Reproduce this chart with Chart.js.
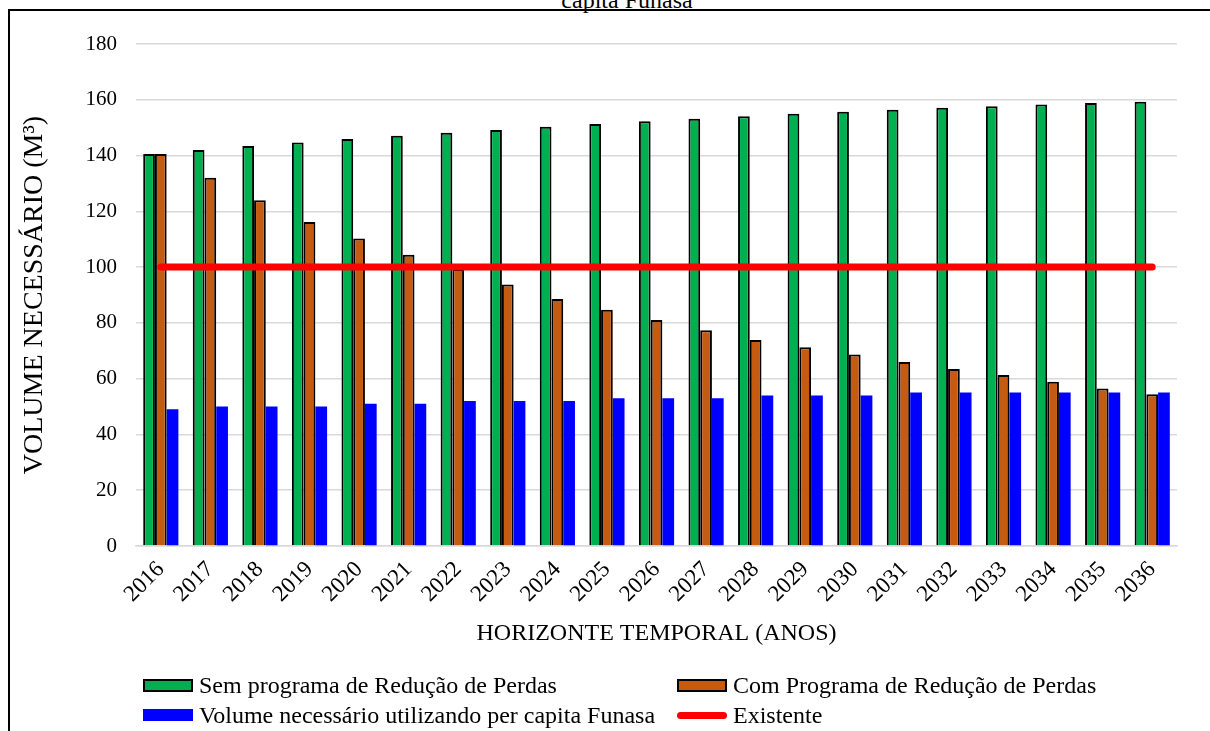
<!DOCTYPE html>
<html>
<head>
<meta charset="utf-8">
<script src="https://cdn.jsdelivr.net/npm/chart.js@4.4.0/dist/chart.umd.min.js"></script>
<style>
    html, body { margin: 0; padding: 0; background: #fff; overflow: hidden; }
    body { width: 1210px; height: 731px; position: relative; font-family: "Liberation Serif", "Times New Roman", serif; }
    #frame { position: absolute; left: 8px; top: 9px; width: 1250px; height: 800px; border-left: 2px solid #000; border-top: 2px solid #000; }
    #wrap { position: absolute; left: 0; top: 0; width: 1210px; height: 731px; }
    #topTitle { position: absolute; left: 427px; width: 400px; top: -12px; text-align: center; font-size: 24px; line-height: 24px; color: #000; }
    #legend { position: absolute; left: 143px; top: 670px; width: 1060px; font-size: 24px; color: #000; }
    .item { position: absolute; display: flex; align-items: center; height: 30px; white-space: nowrap; }
    .swatch { width: 50px; height: 12px; margin-right: 6px; box-sizing: border-box; }
</style>
</head>
<body>
<div id="frame"></div>
<div id="topTitle">capita Funasa</div>
<div id="wrap"><canvas id="volChart"></canvas></div>
<div id="legend"></div>
<script>
const years = ['2016', '2017', '2018', '2019', '2020', '2021', '2022', '2023', '2024', '2025', '2026',
    '2027', '2028', '2029', '2030', '2031', '2032', '2033', '2034', '2035', '2036'];

const semPrograma = [140.6, 142.0, 143.4, 144.7, 145.9, 147.1, 148.2, 149.2, 150.3, 151.3, 152.3,
    153.2, 154.1, 155.0, 155.7, 156.4, 157.1, 157.7, 158.3, 158.8, 159.3];
const comPrograma = [140.6, 132.0, 124.0, 116.2, 110.3, 104.4, 99.3, 93.8, 88.6, 84.7, 81.0,
    77.4, 73.9, 71.3, 68.7, 66.0, 63.5, 61.3, 58.9, 56.5, 54.4];
const funasa = [49, 50, 50, 50, 51, 51, 52, 52, 52, 53, 53,
    53, 54, 54, 54, 55, 55, 55, 55, 55, 55];
const existente = [100, 100, 100, 100, 100, 100, 100, 100, 100, 100, 100,
    100, 100, 100, 100, 100, 100, 100, 100, 100, 100];

const yTicks = [0, 20, 40, 60, 80, 100, 120, 140, 160, 180];

const serif = '"Liberation Serif", "Times New Roman", serif';
const gridColor = '#D9D9D9';

const ctx = document.getElementById('volChart').getContext('2d');
const volChart = new Chart(ctx, {
    data: {
        labels: years,
        datasets: [
            {
                type: 'line',
                label: 'Existente',
                data: existente,
                borderColor: '#FF0000',
                backgroundColor: '#FF0000',
                borderWidth: 7,
                borderCapStyle: 'round',
                pointRadius: 0,
                order: 0
            },
            {
                type: 'bar',
                label: 'Sem programa de Redução de Perdas',
                data: semPrograma,
                backgroundColor: '#00B050',
                borderColor: '#000000',
                borderWidth: 2,
                order: 1
            },
            {
                type: 'bar',
                label: 'Com Programa de Redução de Perdas',
                data: comPrograma,
                backgroundColor: '#C55A11',
                borderColor: '#000000',
                borderWidth: 2,
                order: 1
            },
            {
                type: 'bar',
                label: 'Volume necessário utilizando per capita Funasa',
                data: funasa,
                backgroundColor: '#0000FF',
                borderWidth: 0,
                order: 1
            }
        ]
    },
    options: {
        responsive: true,
        maintainAspectRatio: false,
        animation: false,
        datasets: {
            bar: {
                categoryPercentage: 0.71,
                barPercentage: 1.0
            }
        },
        layout: {
            padding: { left: 18, top: 44, right: 33, bottom: 78 }
        },
        plugins: {
            legend: { display: false },
            tooltip: { enabled: false }
        },
        scales: {
            x: {
                grid: { display: false, drawTicks: false },
                border: { color: gridColor, width: 1.5 },
                ticks: {
                    color: '#000',
                    font: { family: serif, size: 23 },
                    minRotation: 45,
                    maxRotation: 45,
                    autoSkip: false,
                    padding: 10
                },
                title: {
                    display: true,
                    text: 'HORIZONTE TEMPORAL (ANOS)',
                    color: '#000',
                    font: { family: serif, size: 24 },
                    padding: { top: 0, bottom: 5 }
                },
                afterFit: function(scale) {
                    scale.height = 107;
                }
            },
            y: {
                min: 0,
                max: 180,
                afterBuildTicks: function(scale) {
                    scale.ticks = yTicks.map(v => ({ value: v }));
                },
                grid: { color: gridColor, lineWidth: 1.5, drawTicks: false },
                border: { display: false },
                ticks: {
                    color: '#000',
                    font: { family: serif, size: 21 },
                    padding: 19
                },
                title: {
                    display: true,
                    text: 'VOLUME NECESSÁRIO (M³)',
                    color: '#000',
                    font: { family: serif, size: 28 },
                    padding: { top: 0, bottom: 0 }
                },
                afterFit: function(scale) {
                    scale.width = 118;
                }
            }
        }
    }
});

// legend built from the chart's datasets, laid out in two columns like the original
function buildLegend(chart) {
    const box = document.getElementById('legend');
    const order = [1, 2, 3, 0];
    const spots = [[0, 0], [534, 0], [0, 30], [534, 30]];
    order.forEach((idx, i) => {
        const ds = chart.data.datasets[idx];
        const item = document.createElement('div');
        item.className = 'item';
        item.style.left = spots[i][0] + 'px';
        item.style.top = spots[i][1] + 'px';
        const sw = document.createElement('span');
        sw.className = 'swatch';
        sw.style.background = ds.backgroundColor;
        if (ds.type === 'line') {
            sw.style.height = '7px';
            sw.style.borderRadius = '4px';
        } else if (ds.borderWidth) {
            sw.style.border = '2px solid ' + ds.borderColor;
            sw.style.height = '13px';
        }
        const txt = document.createElement('span');
        txt.textContent = ds.label;
        item.appendChild(sw);
        item.appendChild(txt);
        box.appendChild(item);
    });
}
buildLegend(volChart);
</script>
</body>
</html>
